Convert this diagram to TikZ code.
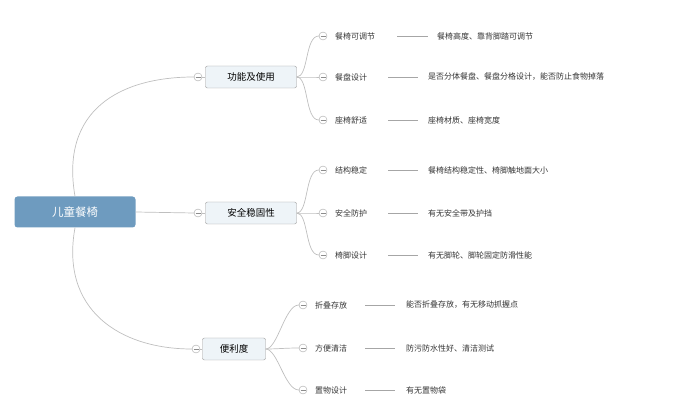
\documentclass[tikz,border=0pt]{standalone}
\usepackage{fontspec}
\newfontfamily\cjk{Noto Sans CJK SC}
\begin{document}
\begin{tikzpicture}[x=1pt,y=-1pt,font=\cjk,
 ln/.style={draw=black!25,line width=0.7pt},
 tln/.style={draw=black!35,line width=0.5pt},
 rootbox/.style={draw=none,fill=rootblue,rounded corners=3pt,minimum width=121pt,minimum height=31pt,text=white,font=\cjk\fontsize{11.5}{12}\selectfont},
 brbox/.style={draw=black!40,fill=brfill,rounded corners=2pt,minimum height=22pt,font=\cjk\fontsize{9.5}{10}\selectfont},
 knob/.style={circle,draw=black!35,fill=white,inner sep=0pt,minimum size=8pt,path picture={\draw[black!45] ([xshift=-2.5pt]path picture bounding box.center)--([xshift=2.5pt]path picture bounding box.center);}},
 lf/.style={anchor=west,inner sep=0pt,font=\cjk\fontsize{8}{8}\selectfont,text=black!80}]
\definecolor{rootblue}{HTML}{6E9BBF}
\definecolor{brfill}{HTML}{EEF4F8}
\useasboundingbox (0,0) rectangle (680,419);
\node[rootbox] (root) at (75,212) {儿童餐椅};
\node[brbox,minimum width=91pt] (b1) at (251,77) {功能及使用};
\node[brbox,minimum width=91pt] (b2) at (251,213) {安全稳固性};
\node[brbox,minimum width=63pt] (b3) at (234,349) {便利度};
\node[knob] (k1) at (198,77) {};
\node[knob] (k2) at (198,213) {};
\node[knob] (k3) at (196,349) {};
\draw[ln] (root.north) .. controls (60,110) and (120,77) .. (k1.west);
\draw[ln] (root.east) -- (k2.west);
\draw[ln] (root.south) .. controls (60,310) and (120,349) .. (k3.west);
\draw[ln] (k1.east)--(b1.west);
\draw[ln] (k2.east)--(b2.west);
\draw[ln] (k3.east)--(b3.west);
\foreach \n/\y/\lab/\det/\dx/\br/\kx/\a/\b in {
 l11/36/餐椅可调节/餐椅高度、靠背脚踏可调节/437/b1/323/397/428,
 l12/77/餐盘设计/是否分体餐盘、餐盘分格设计，能否防止食物掉落/428/b1/323/388/418,
 l13/120/座椅舒适/座椅材质、座椅宽度/428/b1/323/388/418,
 l21/170/结构稳定/餐椅结构稳定性、椅脚触地面大小/428/b2/323/388/418,
 l22/213/安全防护/有无安全带及护挡/428/b2/323/388/418,
 l23/255/椅脚设计/有无脚轮、脚轮固定防滑性能/428/b2/323/388/418,
 l31/305/折叠存放/能否折叠存放，有无移动抓握点/406/b3/303/365/395,
 l32/348/方便清洁/防污防水性好、清洁测试/406/b3/303/365/395,
 l33/390/置物设计/有无置物袋/406/b3/303/365/395}{
 \node[knob] (\n k) at (\kx,\y) {};
 \node[lf] (\n t) at (\kx+12,\y) {\lab};
 \node[lf] (\n d) at (\dx,\y) {\det};
 \coordinate (\n a) at (\a,\y);
 \coordinate (\n b) at (\b,\y);
 \draw[tln] (\n a)--(\n b);
 \draw[ln] (\br.east) .. controls ([xshift=12]\br.east) and ([xshift=-14]\n k.west) .. (\n k.west);
}
\end{tikzpicture}
\end{document}
